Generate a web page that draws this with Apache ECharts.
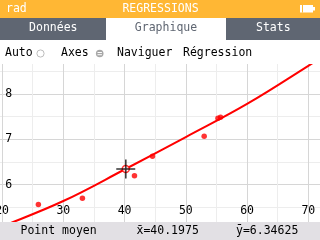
<!DOCTYPE html>
<html><head><meta charset="utf-8">
<script src="https://cdn.jsdelivr.net/npm/echarts@6/dist/echarts.min.js"></script>
<style>html,body{margin:0;padding:0;background:#fff}#c{width:320px;height:240px}</style>
</head><body><div id="c"></div>
<script>
// Data points (x, y)
const pointsX = [12.4, 25.93, 33.12, 41.62, 44.56, 53.0, 55.25, 55.67];
const pointsY = [4.65, 5.565, 5.70, 6.197, 6.63, 7.066, 7.464, 7.486];
// Regression curve
const curveX = [15, 20, 30, 40, 50, 60, 70, 75];
const curveY = [4.82, 5.08, 5.64, 6.335, 7.05, 7.78, 8.62, 9.06];
// Mean point
const meanX = 40.1975;
const meanY = 6.34625;
// Texts
const tabs = ['Données', 'Graphique', 'Stats'];
const toolbar = ['Auto', 'Axes', 'Naviguer', 'Régression'];
const title = 'REGRESSIONS';
const angleMode = 'rad';
const meanLabel = 'Point moyen';

const FONT = '"DejaVu Sans Mono", monospace';
const F = (s) => s + 'px ' + FONT;
const RED = '#FF0000';
const ORANGE = '#FFB734';
const TABGREY = '#5F6672';

const chart = echarts.init(document.getElementById('c'), null, {renderer: 'canvas'});

const graphics = [
  {type: 'rect', shape: {x: 0, y: 0, width: 320, height: 18}, style: {fill: ORANGE}, z: 100},
  {type: 'text', style: {text: angleMode, x: 6, y: 9, fill: '#fff', font: F(11.5), align: 'left', verticalAlign: 'middle'}, z: 101},
  {type: 'text', style: {text: title, x: 160.5, y: 9, fill: '#fff', font: F(11.5), align: 'center', verticalAlign: 'middle'}, z: 101},
  {type: 'rect', shape: {x: 300, y: 5, width: 13, height: 7.5}, style: {fill: '#fff'}, z: 101},
  {type: 'rect', shape: {x: 313, y: 7, width: 2, height: 3.5}, style: {fill: '#fff'}, z: 101},
  {type: 'rect', shape: {x: 302, y: 5, width: 1, height: 7.5}, style: {fill: ORANGE}, z: 102},
  {type: 'rect', shape: {x: 0, y: 18, width: 320, height: 22}, style: {fill: TABGREY}, z: 100},
  {type: 'rect', shape: {x: 106, y: 18, width: 120, height: 22}, style: {fill: '#fff'}, z: 101},
  {type: 'text', style: {text: tabs[0], x: 53.3, y: 28.5, fill: '#fff', font: F(11.5), align: 'center', verticalAlign: 'middle'}, z: 102},
  {type: 'text', style: {text: tabs[1], x: 166, y: 28.5, fill: TABGREY, font: F(11.5), align: 'center', verticalAlign: 'middle'}, z: 102},
  {type: 'text', style: {text: tabs[2], x: 273.3, y: 28.5, fill: '#fff', font: F(11.5), align: 'center', verticalAlign: 'middle'}, z: 102},
  {type: 'rect', shape: {x: 0, y: 40, width: 320, height: 24}, style: {fill: '#fff'}, z: 100},
  {type: 'text', style: {text: toolbar[0], x: 5, y: 53.5, fill: '#000', font: F(11.5), align: 'left', verticalAlign: 'middle'}, z: 101},
  {type: 'circle', shape: {cx: 40.5, cy: 53.5, r: 3.6}, style: {fill: '#fff', stroke: '#BDBDBD', lineWidth: 1}, z: 101},
  {type: 'text', style: {text: toolbar[1], x: 61, y: 53.5, fill: '#000', font: F(11.5), align: 'left', verticalAlign: 'middle'}, z: 101},
  {type: 'circle', shape: {cx: 99.7, cy: 53.5, r: 3.8}, style: {fill: '#A8A8A8'}, z: 101},
  {type: 'rect', shape: {x: 97.5, y: 52, width: 4.4, height: 1}, style: {fill: '#fff'}, z: 102},
  {type: 'rect', shape: {x: 97.5, y: 54.2, width: 4.4, height: 1}, style: {fill: '#fff'}, z: 102},
  {type: 'text', style: {text: toolbar[2], x: 117, y: 53.5, fill: '#000', font: F(11.5), align: 'left', verticalAlign: 'middle'}, z: 101},
  {type: 'text', style: {text: toolbar[3], x: 183, y: 53.5, fill: '#000', font: F(11.5), align: 'left', verticalAlign: 'middle'}, z: 101},
  {type: 'rect', shape: {x: 0, y: 222, width: 320, height: 18}, style: {fill: '#E2E0E4'}, z: 100},
  {type: 'text', style: {text: meanLabel, x: 20.5, y: 231, fill: '#000', font: F(11.5), align: 'left', verticalAlign: 'middle'}, z: 101},
  {type: 'text', style: {text: 'x\u0304=' + meanX, x: 136.5, y: 231, fill: '#000', font: F(11.5), align: 'left', verticalAlign: 'middle'}, z: 101},
  {type: 'text', style: {text: 'y\u0304=' + meanY, x: 236, y: 231, fill: '#000', font: F(11.5), align: 'left', verticalAlign: 'middle'}, z: 101}
];

chart.setOption({
  animation: false,
  backgroundColor: '#fff',
  grid: {left: -59.2, right: -49.55, top: 48.65, bottom: 9.95, outerBoundsMode: 'none', containLabel: false},
  xAxis: {
    type: 'value', min: 10, max: 80, interval: 10,
    offset: -19,
    axisLine: {show: false}, axisTick: {show: false},
    axisLabel: {margin: 0, verticalAlign: 'middle', color: '#000', fontFamily: FONT, fontSize: 11.5, showMinLabel: true, showMaxLabel: true, hideOverlap: false},
    splitLine: {show: true, lineStyle: {color: '#D6D6D6', width: 1}},
    minorTick: {show: false, splitNumber: 2},
    minorSplitLine: {show: true, lineStyle: {color: '#EDEDED', width: 1}}
  },
  yAxis: {
    type: 'value', min: 5, max: 9, interval: 1,
    offset: -64.5,
    axisLine: {show: false}, axisTick: {show: false},
    axisLabel: {inside: true, margin: 0, align: 'left', color: '#000', fontFamily: FONT, fontSize: 11.5, showMinLabel: true, showMaxLabel: true},
    splitLine: {show: true, lineStyle: {color: '#D6D6D6', width: 1}},
    minorTick: {show: false, splitNumber: 2},
    minorSplitLine: {show: true, lineStyle: {color: '#EDEDED', width: 1}}
  },
  graphic: {elements: graphics},
  series: [
    {
      type: 'line', data: curveX.map((x, i) => [x, curveY[i]]),
      showSymbol: false, smooth: 0.4, lineStyle: {color: RED, width: 2}, z: 3, silent: true
    },
    {
      type: 'scatter', data: pointsX.map((x, i) => [x, pointsY[i]]),
      symbol: 'circle', symbolSize: 5.5, itemStyle: {color: RED}, z: 4, silent: true
    },
    {
      type: 'scatter', data: [[meanX, meanY]],
      symbol: 'circle', symbolSize: 7, itemStyle: {color: '#fff', borderColor: RED, borderWidth: 1.5}, z: 5, silent: true
    },
    {
      type: 'scatter', data: [[meanX, meanY]],
      symbol: 'path://M0,8.8h19v1.5h-19z M8.8,0h1.5v19h-1.5z', symbolSize: [19, 19], symbolKeepAspect: true,
      itemStyle: {color: '#000'}, z: 6, silent: true
    }
  ]
});
</script></body></html>
